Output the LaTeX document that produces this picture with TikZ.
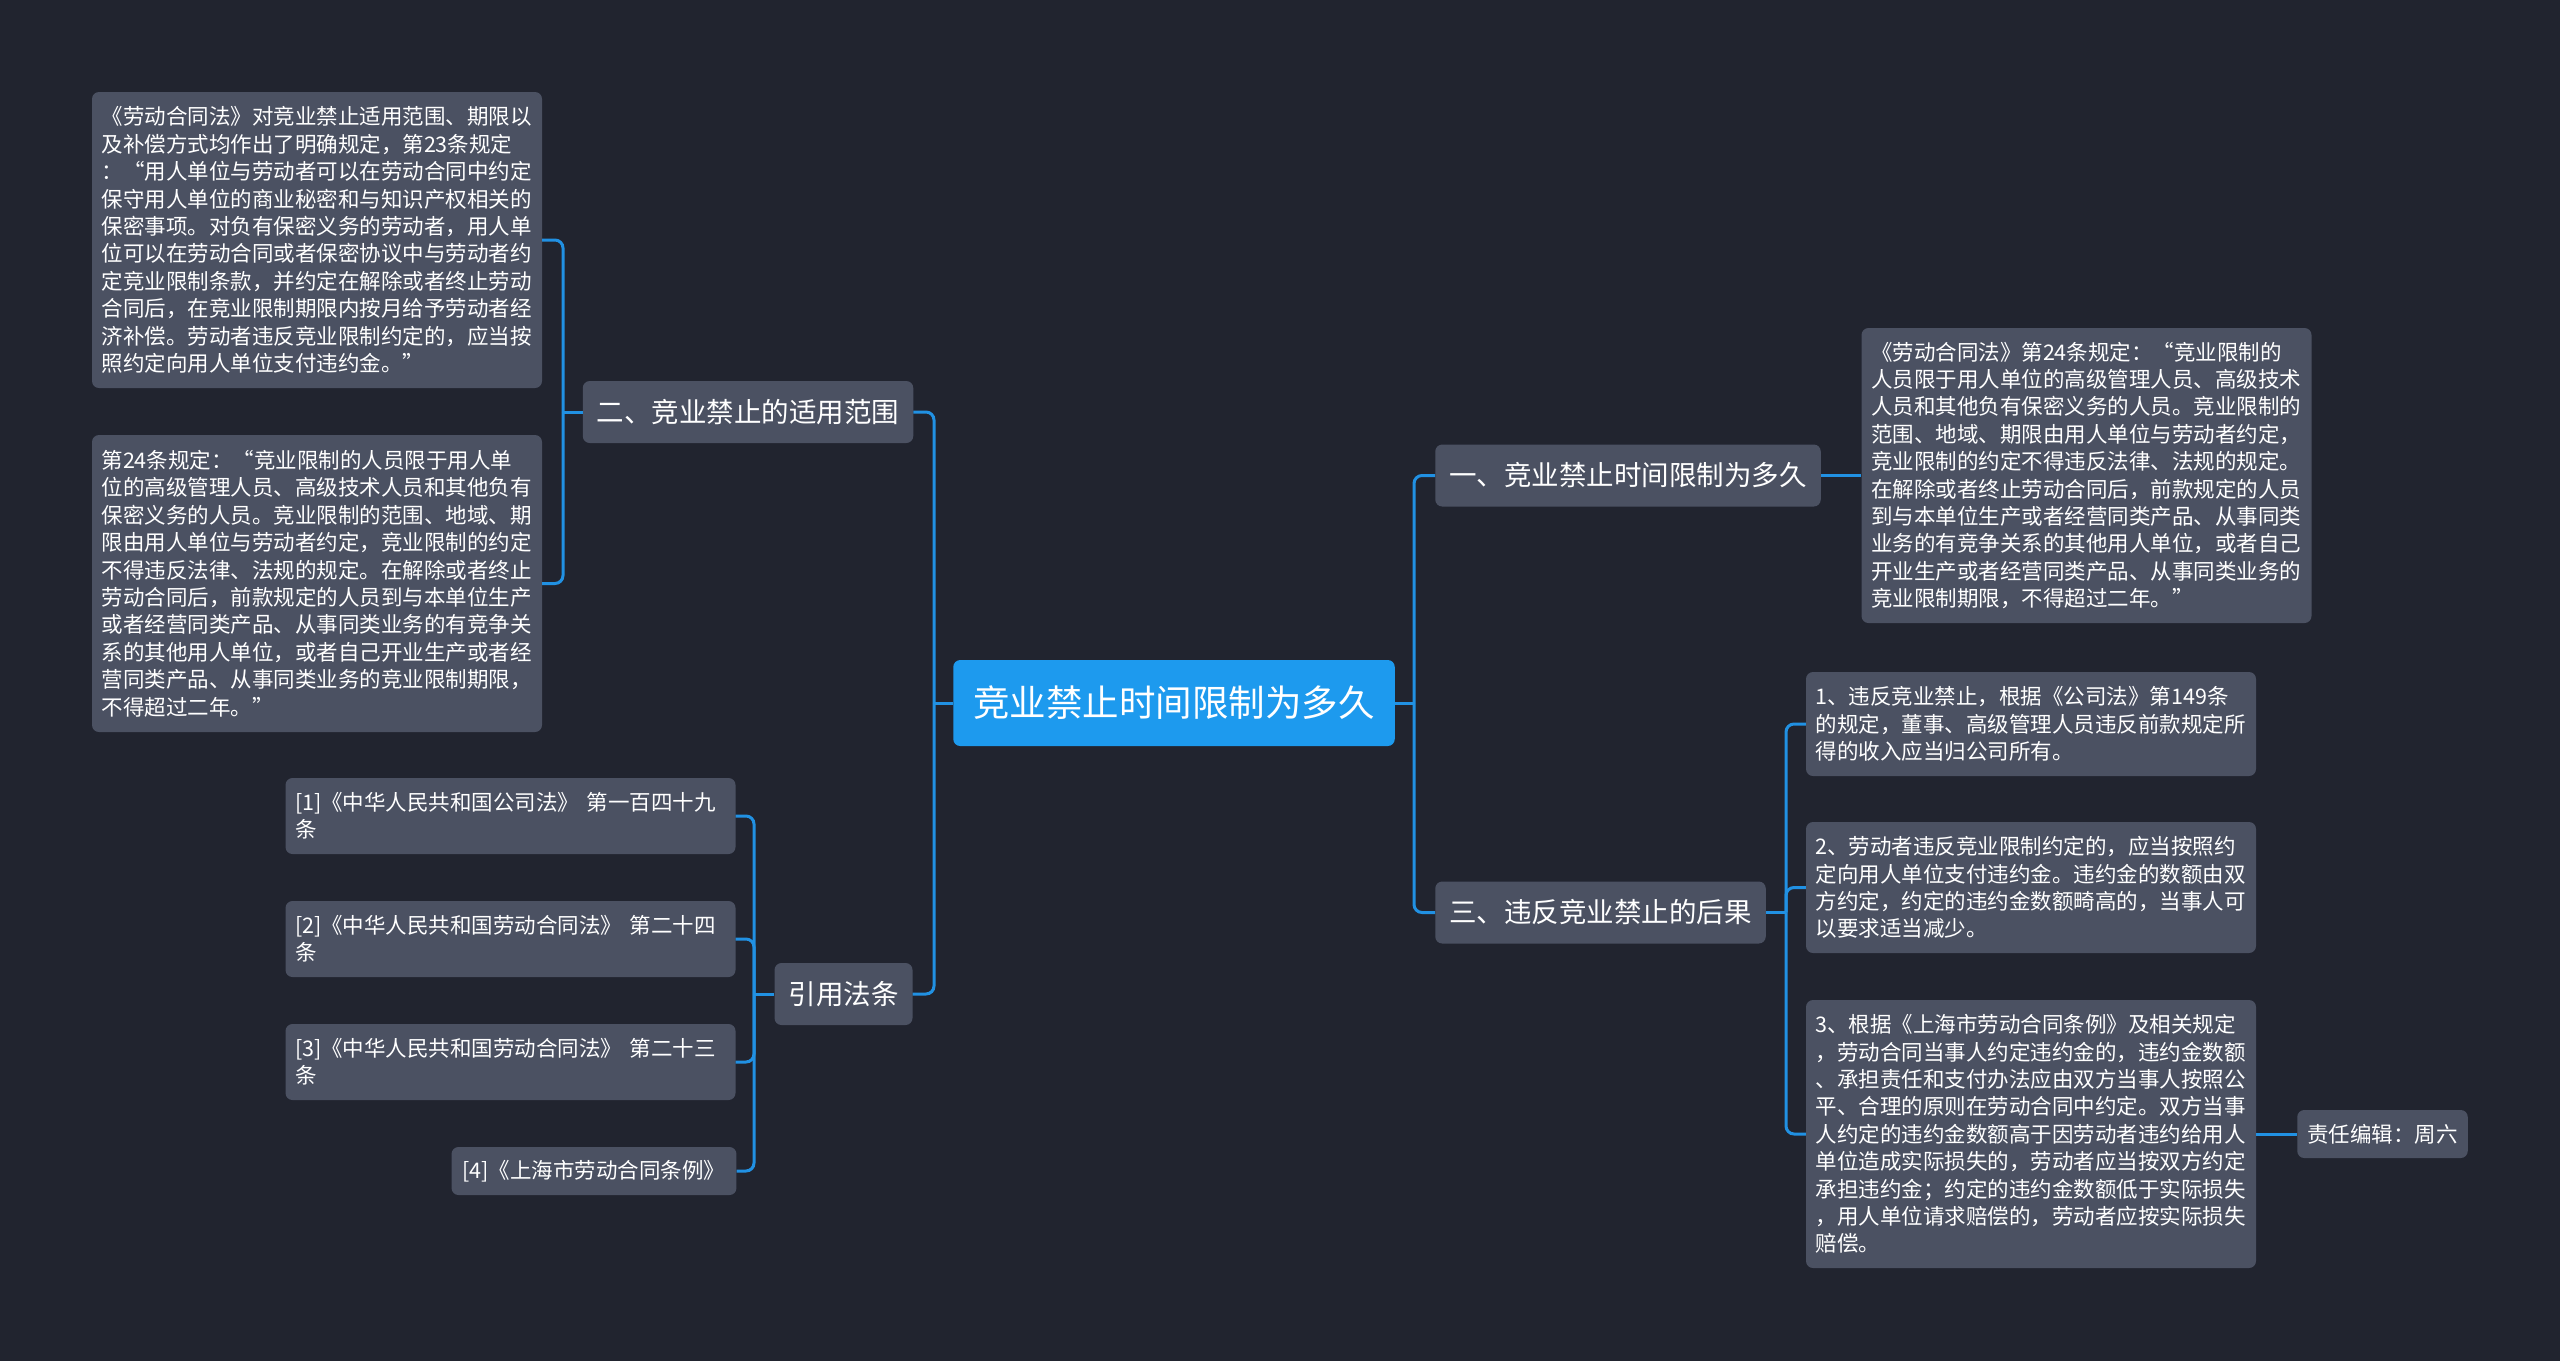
\documentclass[tikz,border=0pt]{standalone}
\usepackage{fontspec}
\newfontfamily\cjkfont{Noto Sans CJK SC}
\definecolor{bgdark}{HTML}{21242F}
\definecolor{boxgray}{HTML}{4B5162}
\definecolor{rootblue}{HTML}{1D9AEE}
\definecolor{linkblue}{HTML}{2191E3}
\begin{document}
\begin{tikzpicture}[x=1pt, y=1pt,
    every node/.style={rounded corners=7pt, text=white},
    rootbox/.style={fill=rootblue, inner xsep=20pt, minimum height=86pt, font=\cjkfont\fontsize{36.5}{44}\selectfont},
    topicbox/.style={fill=boxgray, inner xsep=14pt, minimum height=62pt, font=\cjkfont\fontsize{27.5}{33}\selectfont},
    notebox/.style={fill=boxgray, text width=431pt, inner xsep=9.5pt, align=left, font=\cjkfont\fontsize{21.5}{27.4}\selectfont},
    tagbox/.style={fill=boxgray, inner xsep=10pt, minimum height=48pt, font=\cjkfont\fontsize{21.5}{27.4}\selectfont},
    link/.style={draw=linkblue, line width=3pt, rounded corners=8pt}]
    % Background
    \fill[bgdark] (0,0) rectangle (2560,-1361);
    \useasboundingbox (0,0) rectangle (2560,-1361);

    % Nodes
    \node[rootbox] (root) at (1174,-703) {竞业禁止时间限制为多久};       % Centre
    \node[topicbox] (t1) at (1628,-475.5) {一、竞业禁止时间限制为多久};  % Right, top
    \node[topicbox] (t3) at (1600.5,-912.5) {三、违反竞业禁止的后果};    % Right, bottom
    \node[topicbox] (t2) at (748,-412) {二、竞业禁止的适用范围};         % Left, top
    \node[topicbox] (law) at (843.5,-994) {引用法条};                    % Left, bottom

    \node[notebox, minimum height=296pt] (n21) at (317,-240) {%
      《劳动合同法》对竞业禁止适用范围、期限以\\
      及补偿方式均作出了明确规定，第23条规定\\
      ：“用人单位与劳动者可以在劳动合同中约定\\
      保守用人单位的商业秘密和与知识产权相关的\\
      保密事项。对负有保密义务的劳动者，用人单\\
      位可以在劳动合同或者保密协议中与劳动者约\\
      定竞业限制条款，并约定在解除或者终止劳动\\
      合同后，在竞业限制期限内按月给予劳动者经\\
      济补偿。劳动者违反竞业限制约定的，应当按\\
      照约定向用人单位支付违约金。”};
    \node[notebox, minimum height=297pt] (n22) at (317,-583.5) {%
      第24条规定：“竞业限制的人员限于用人单\\
      位的高级管理人员、高级技术人员和其他负有\\
      保密义务的人员。竞业限制的范围、地域、期\\
      限由用人单位与劳动者约定，竞业限制的约定\\
      不得违反法律、法规的规定。在解除或者终止\\
      劳动合同后，前款规定的人员到与本单位生产\\
      或者经营同类产品、从事同类业务的有竞争关\\
      系的其他用人单位，或者自己开业生产或者经\\
      营同类产品、从事同类业务的竞业限制期限，\\
      不得超过二年。”};
    \node[notebox, minimum height=295pt] (n11) at (2086.5,-475.5) {%
      《劳动合同法》第24条规定：“竞业限制的\\
      人员限于用人单位的高级管理人员、高级技术\\
      人员和其他负有保密义务的人员。竞业限制的\\
      范围、地域、期限由用人单位与劳动者约定，\\
      竞业限制的约定不得违反法律、法规的规定。\\
      在解除或者终止劳动合同后，前款规定的人员\\
      到与本单位生产或者经营同类产品、从事同类\\
      业务的有竞争关系的其他用人单位，或者自己\\
      开业生产或者经营同类产品、从事同类业务的\\
      竞业限制期限，不得超过二年。”};
    \node[notebox, minimum height=104pt] (n31) at (2031,-724) {%
      1、违反竞业禁止，根据《公司法》第149条\\
      的规定，董事、高级管理人员违反前款规定所\\
      得的收入应当归公司所有。};
    \node[notebox, minimum height=131pt] (n32) at (2031,-887.5) {%
      2、劳动者违反竞业限制约定的，应当按照约\\
      定向用人单位支付违约金。违约金的数额由双\\
      方约定，约定的违约金数额畸高的，当事人可\\
      以要求适当减少。};
    \node[notebox, minimum height=268pt] (n33) at (2031,-1134) {%
      3、根据《上海市劳动合同条例》及相关规定\\
      ，劳动合同当事人约定违约金的，违约金数额\\
      、承担责任和支付办法应由双方当事人按照公\\
      平、合理的原则在劳动合同中约定。双方当事\\
      人约定的违约金数额高于因劳动者违约给用人\\
      单位造成实际损失的，劳动者应当按双方约定\\
      承担违约金；约定的违约金数额低于实际损失\\
      ，用人单位请求赔偿的，劳动者应按实际损失\\
      赔偿。};
    \node[tagbox] (editor) at (2382.5,-1134) {责任编辑：周六};

    \node[notebox, minimum height=76pt] (law1) at (510.5,-816) {%
      [1]《中华人民共和国公司法》 第一百四十九\\条};
    \node[notebox, minimum height=76pt] (law2) at (510.5,-939) {%
      [2]《中华人民共和国劳动合同法》 第二十四\\条};
    \node[notebox, minimum height=76pt] (law3) at (510.5,-1062) {%
      [3]《中华人民共和国劳动合同法》 第二十三\\条};
    \node[tagbox, inner xsep=11pt, minimum width=284pt] (law4) at (594,-1171) {[4]《上海市劳动合同条例》};

    % Edges
    \coordinate (rootL) at (934,-703);
    \coordinate (rootR) at (1414,-703);
    \coordinate (t2L) at (563,-412);
    \coordinate (lawL) at (754,-994);
    \coordinate (t3R) at (1786,-912.5);

    \draw[link] (root.west) -- (rootL);
    \draw[link] (rootL) |- (t2.east);
    \draw[link] (rootL) |- (law.east);
    \draw[link] (root.east) -- (rootR);
    \draw[link] (rootR) |- (t1.west);
    \draw[link] (rootR) |- (t3.west);
    \draw[link] (t1.east) -- (n11.west);
    \draw[link] (t3.east) -- (t3R);
    \draw[link] (t3R) |- (n31.west);
    \draw[link] (t3R) |- (n32.west);
    \draw[link] (t3R) |- (n33.west);
    \draw[link] (n33.east) -- (editor.west);
    \draw[link] (t2.west) -- (t2L);
    \draw[link] (t2L) |- (n21.east);
    \draw[link] (t2L) |- (n22.east);
    \draw[link] (law.west) -- (lawL);
    \draw[link] (lawL) |- (law1.east);
    \draw[link] (lawL) |- (law2.east);
    \draw[link] (lawL) |- (law3.east);
    \draw[link] (lawL) |- (law4.east);
\end{tikzpicture}
\end{document}
